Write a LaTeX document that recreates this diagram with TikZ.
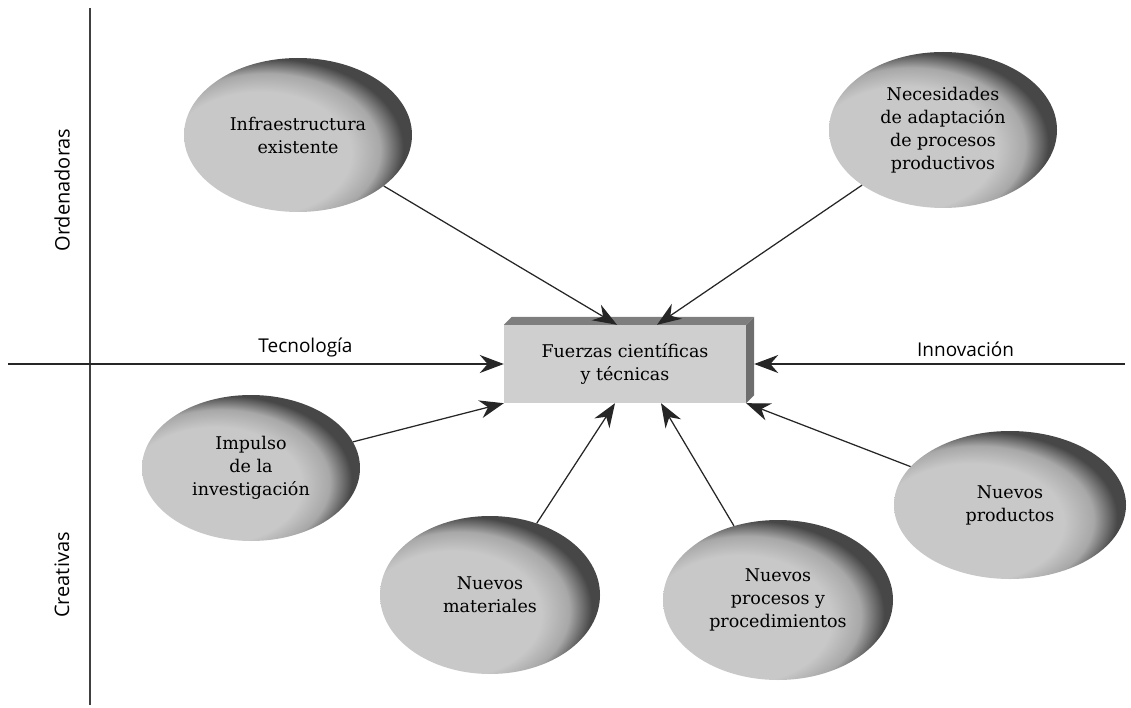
\documentclass[tikz,border=0pt]{standalone}
\usepackage{fontspec}
\setmainfont{DejaVu Serif}
\setsansfont{Open Sans}
\usepackage{tikz}
\usetikzlibrary{arrows.meta, shapes.geometric}
\definecolor{blobLight}{HTML}{C8C8C8}
\definecolor{blobDark}{HTML}{474747}
\definecolor{slabFront}{HTML}{CFCFCF}
\definecolor{slabTop}{HTML}{7E7E7E}
\definecolor{slabSide}{HTML}{6E6E6E}
\pgfdeclareradialshading{blobshade}{\pgfpoint{-14bp}{-10bp}}{%
  color(0bp)=(blobLight); color(20bp)=(blobLight);
  color(25bp)=(blobLight!75!blobDark); color(29bp)=(blobDark);
  color(50bp)=(blobDark)}

\begin{document}
\begin{tikzpicture}[x=1pt, y=-1pt,
  font=\fontsize{17.5}{23}\selectfont,
  blob/.style={ellipse, shading=blobshade, minimum width=228pt,
               minimum height=154pt, align=center, inner sep=0pt},
  slab/.style={rectangle, fill=slabFront, minimum width=242pt,
               minimum height=78pt, align=center, inner sep=0pt},
  side/.style={rotate=90, font=\sffamily\fontsize{20}{24}\selectfont},
  lbl/.style={above=3pt, font=\sffamily\fontsize{19}{23}\selectfont},
  axis/.style={line width=1.2pt, draw=black!75},
  arr/.style={-{Stealth[length=24pt, width=18pt]}, line width=1.25pt, draw=black!85}
]
\useasboundingbox (0,0) rectangle (1131,708);

\node[slab] (core) at (625,364) {Fuerzas científicas\\y técnicas};
\fill[slabTop] (core.north west) -- ++(8,-8) -- ([shift={(8,-8)}]core.north east)
  -- (core.north east) -- cycle;
\fill[slabSide] (core.north east) -- ++(8,-8) -- ([shift={(8,-8)}]core.south east)
  -- (core.south east) -- cycle;

\node[blob] (infra) at (298,135) {Infraestructura\\existente};
\node[blob, minimum height=156pt] (adapt) at (943,130) {Necesidades\\de adaptación\\de procesos\\productivos};
\node[blob, minimum width=218pt, minimum height=146pt] (impulso) at (251,468) {Impulso\\de la\\investigación};
\node[blob, minimum width=220pt, minimum height=158pt] (materiales) at (490,595) {Nuevos\\materiales};
\node[blob, minimum width=230pt, minimum height=160pt] (procesos) at (778,600) {Nuevos\\procesos y\\procedimientos};
\node[blob, minimum width=232pt, minimum height=148pt] (productos) at (1010,505) {Nuevos\\productos};

% ejes
\coordinate (vtop) at (90,8);
\coordinate (vbot) at (90,705);
\coordinate (tecw) at (8,364);
\coordinate (innoe) at (1125,364);
\draw[axis] (vtop) -- (vbot);
\node[side] (orden) at (62,190) {Ordenadoras};
\node[side] (crea) at (62,575) {Creativas};

\draw[axis, arr] (tecw) -- (core) node[pos=0.6, lbl] (tecno) {Tecnología};
\draw[axis, arr] (innoe) -- ([xshift=8pt]core.east) node[pos=0.43, lbl] (innov) {Innovación};

\draw[arr] (infra) -- ([xshift=-8pt]core.north);
\draw[arr] (adapt) -- ([xshift=32pt]core.north);
\draw[arr] (impulso) -- (core.south west);
\draw[arr] (materiales) -- ([xshift=-10pt]core.south);
\draw[arr] (procesos) -- ([xshift=36pt]core.south);
\draw[arr] (productos) -- (core.south east);
\end{tikzpicture}
\end{document}
